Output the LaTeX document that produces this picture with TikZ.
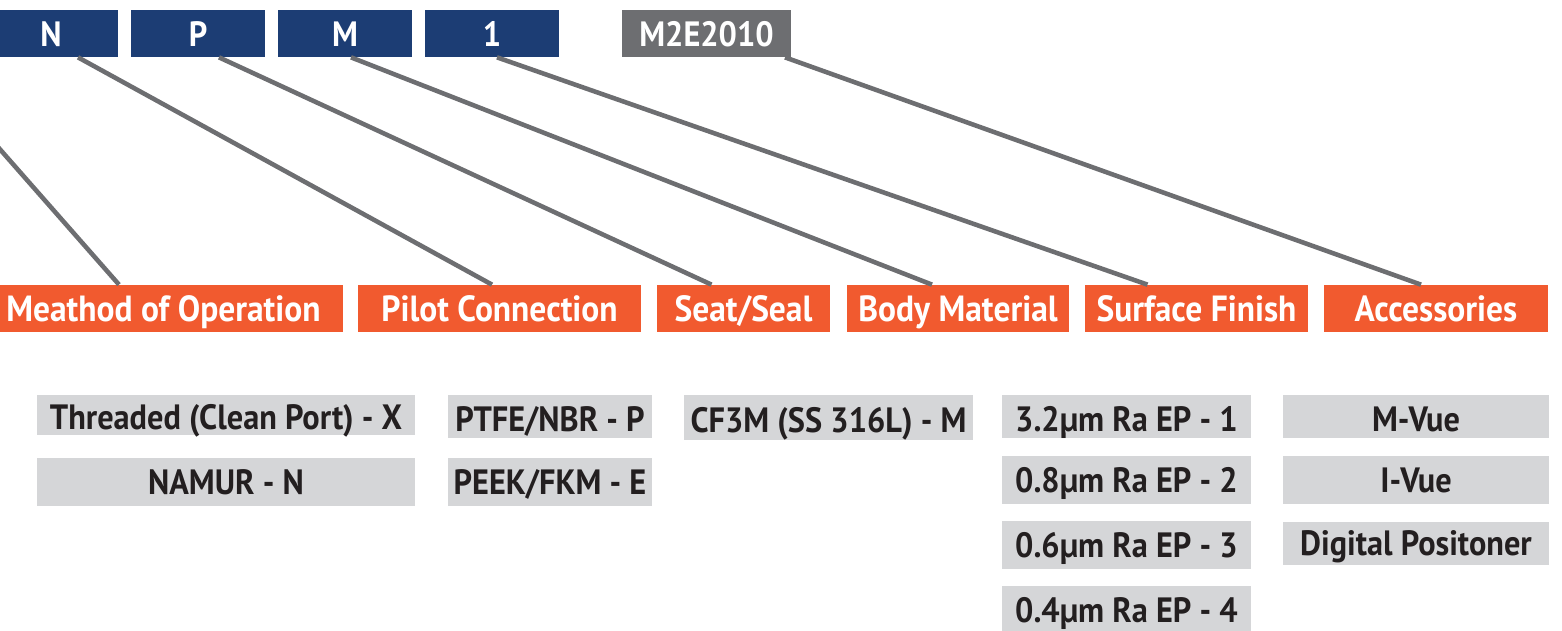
\documentclass[tikz,border=0pt]{standalone}
\usepackage{fontspec}
\setmainfont{PT Sans}[FakeStretch=0.92]
\usetikzlibrary{positioning}
\definecolor{navy}{HTML}{1C3D74}
\definecolor{codegray}{HTML}{6D6E71}
\definecolor{hdorange}{HTML}{F15A2F}
\definecolor{optgray}{HTML}{D5D6D8}
\definecolor{inkdark}{HTML}{231F20}

\begin{document}
\begin{tikzpicture}[font=\bfseries,
 key/.style={fill=navy,text=white,minimum width=2.68cm,minimum height=0.94cm,inner sep=0pt,text height=15.2pt,text depth=0pt,font=\fontsize{20}{22}\selectfont\bfseries},
 head/.style={fill=hdorange,text=white,minimum height=0.94cm,inner sep=0pt,text height=15.2pt,text depth=0pt,font=\fontsize{20.7}{22}\selectfont\bfseries},
 opt/.style={fill=optgray,text=inkdark,minimum height=0.86cm,inner sep=0pt,text height=13.8pt,text depth=0pt,font=\fontsize{20}{22}\selectfont\bfseries},
 opttop/.style={opt,text height=17pt},
 link/.style={draw=codegray,line width=2.6pt}]
\useasboundingbox (0,0) rectangle (31.24,12.6);
\clip (0,0) rectangle (31.24,12.6);
% code boxes
\node[key] (n) at (1.02,11.93) {N};
\node[key] (p) at (3.96,11.93) {P};
\node[key] (m) at (6.90,11.93) {M};
\node[key] (one) at (9.84,11.93) {1};
\node[key,fill=codegray,minimum width=3.38cm] (code) at (14.13,11.93) {M2E2010};
% headings
\node[head,minimum width=7.18cm] (mo) at (3.27,6.43) {Meathod of Operation};
\node[head,minimum width=5.66cm] (pc) at (9.99,6.43) {Pilot Connection};
\node[head,minimum width=3.46cm] (ss) at (14.87,6.43) {Seat/Seal};
\node[head,minimum width=4.44cm] (bm) at (19.16,6.43) {Body Material};
\node[head,minimum width=4.46cm] (sf) at (23.93,6.43) {Surface Finish};
\node[head,minimum width=4.48cm] (ac) at (28.72,6.43) {Accessories};
% options
\node[opttop,minimum width=7.56cm,minimum height=0.8cm] (mo1) at (4.52,4.30) {Threaded (Clean Port) - X};
\node[opt,minimum width=7.56cm,minimum height=0.96cm] (mo2) at (4.52,2.96) {NAMUR - N};
\node[opttop,minimum width=4.08cm] (pc1) at (11.00,4.27) {PTFE/NBR - P};
\node[opt,minimum width=4.08cm,minimum height=0.96cm] (pc2) at (11.00,2.96) {PEEK/FKM - E};
\node[opttop,minimum width=5.78cm,minimum height=0.9cm] (ss1) at (16.57,4.25) {CF3M (SS 316L) - M};
\node[opttop,minimum width=4.98cm] (sf1) at (22.53,4.27) {3.2µm Ra EP - 1};
\node[opt,minimum width=4.98cm,minimum height=0.96cm] (sf2) at (22.53,3.00) {0.8µm Ra EP - 2};
\node[opt,minimum width=4.98cm,minimum height=0.96cm] (sf3) at (22.53,1.70) {0.6µm Ra EP - 3};
\node[opt,minimum width=4.98cm,minimum height=0.96cm] (sf4) at (22.53,0.40) {0.4µm Ra EP - 4};
\node[opttop,minimum width=5.32cm] (ac1) at (28.32,4.27) {M-Vue};
\node[opt,minimum width=5.32cm,minimum height=0.96cm] (ac2) at (28.32,3.00) {I-Vue};
\node[opt,minimum width=5.32cm] (ac3) at (28.32,1.73) {Digital Positoner};
% leader lines
\coordinate (off) at (-0.34,10.0);
\draw[link] (off) -- ([xshift=-0.89cm]mo.north);
\draw[link] ([xshift=0.54cm]n.south) -- ([xshift=-0.15cm]pc.north);
\draw[link] ([xshift=0.42cm]p.south) -- ([xshift=-0.64cm]ss.north);
\draw[link] ([xshift=0.12cm]m.south) -- ([xshift=-0.52cm]bm.north);
\draw[link] ([xshift=0.10cm]one.south) -- ([xshift=-0.98cm]sf.north);
\draw[link] ([xshift=1.57cm]code.south) -- ([xshift=-0.30cm]ac.north);
\end{tikzpicture}
\end{document}
